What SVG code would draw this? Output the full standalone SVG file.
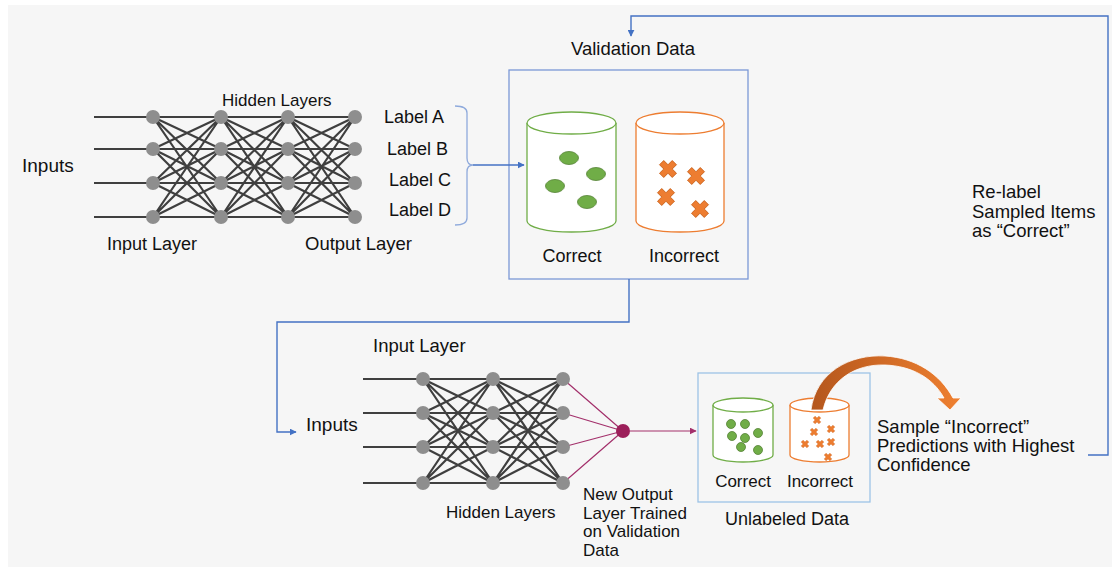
<svg xmlns="http://www.w3.org/2000/svg" width="1115" height="570" viewBox="0 0 1115 570">
<defs>
<style>
text{font-family:"Liberation Sans",Arial,sans-serif;font-size:18px;fill:#111}
.s17{font-size:17px}
.s185{font-size:18.5px}
.net{stroke:#3f3f3f;stroke-width:2.2;fill:none}
.node{fill:#8e8e8e}
.blue{stroke:#4472c4;stroke-width:1.4;fill:none}
.mag{stroke:#a3306b;stroke-width:1.2;fill:none}
.cylg{fill:#fff;stroke:#70ad47;stroke-width:1.3}
.cylo{fill:#fff;stroke:#ed7d31;stroke-width:1.3}
.dot{fill:#70ad47;stroke:#548235;stroke-width:0.8}
</style>
<marker id="ab" viewBox="0 0 10 10" refX="9" refY="5" markerWidth="7" markerHeight="7" markerUnits="userSpaceOnUse" orient="auto"><path d="M0 0L10 5L0 10Z" fill="#4472c4"/></marker>
<marker id="am" viewBox="0 0 10 10" refX="9" refY="5" markerWidth="7" markerHeight="7" markerUnits="userSpaceOnUse" orient="auto"><path d="M0 0L10 5L0 10Z" fill="#a3306b"/></marker>
<polygon id="x" transform="rotate(45)" points="-3,-9 3,-9 3,-3 9,-3 9,3 3,3 3,9 -3,9 -3,3 -9,3 -9,-3 -3,-3" fill="#ed7d31" stroke="#c55a11" stroke-width="0.8" stroke-linejoin="round"/>
<linearGradient id="og" x1="0" y1="0" x2="1" y2="0"><stop offset="0" stop-color="#b4561c"/><stop offset="1" stop-color="#ef8030"/></linearGradient>
</defs>
<rect x="8" y="5" width="1104" height="562" fill="#f6f6f6"/>

<g id="top-network">
<path class="net" d="M94 117H153M94 149H153M94 183H153M94 217H153"/>
<path class="net" d="M153 117L221 117M153 117L221 149M153 117L221 183M153 117L221 217M153 149L221 117M153 149L221 149M153 149L221 183M153 149L221 217M153 183L221 117M153 183L221 149M153 183L221 183M153 183L221 217M153 217L221 117M153 217L221 149M153 217L221 183M153 217L221 217"/>
<path class="net" d="M221 117L288 117M221 117L288 149M221 117L288 183M221 117L288 217M221 149L288 117M221 149L288 149M221 149L288 183M221 149L288 217M221 183L288 117M221 183L288 149M221 183L288 183M221 183L288 217M221 217L288 117M221 217L288 149M221 217L288 183M221 217L288 217"/>
<path class="net" d="M288 117L355 117M288 117L355 149M288 117L355 183M288 117L355 217M288 149L355 117M288 149L355 149M288 149L355 183M288 149L355 217M288 183L355 117M288 183L355 149M288 183L355 183M288 183L355 217M288 217L355 117M288 217L355 149M288 217L355 183M288 217L355 217"/>
<g class="node">
<circle cx="153" cy="117" r="7"/><circle cx="153" cy="149" r="7"/><circle cx="153" cy="183" r="7"/><circle cx="153" cy="217" r="7"/>
<circle cx="221" cy="117" r="7"/><circle cx="221" cy="149" r="7"/><circle cx="221" cy="183" r="7"/><circle cx="221" cy="217" r="7"/>
<circle cx="288" cy="117" r="7"/><circle cx="288" cy="149" r="7"/><circle cx="288" cy="183" r="7"/><circle cx="288" cy="217" r="7"/>
<circle cx="355" cy="117" r="7"/><circle cx="355" cy="149" r="7"/><circle cx="355" cy="183" r="7"/><circle cx="355" cy="217" r="7"/>
</g>
<text x="22" y="172" style="font-size:19px">Inputs</text>
<text x="222" y="106" class="s17">Hidden Layers</text>
<text x="107" y="250">Input Layer</text>
<text x="305" y="250" class="s185">Output Layer</text>
</g>

<g id="labels">
<text x="384" y="123">Label A</text>
<text x="387" y="155">Label B</text>
<text x="389" y="186">Label C</text>
<text x="389" y="216">Label D</text>
<path d="M455 106Q467 106 467 113L467 158Q467 165 473 165Q467 165 467 172L467 218Q467 225 455 225" fill="none" stroke="#8faadc" stroke-width="1.3"/>
</g>

<g id="validation-data">
<rect x="509" y="70" width="239" height="209" fill="none" stroke="#7b98d6" stroke-width="1.3"/>
<text x="633" y="55" text-anchor="middle" class="s185">Validation Data</text>
<path class="cylg" d="M527 123V221A44.5 11 0 0 0 616 221V123"/>
<ellipse class="cylg" cx="571.5" cy="123" rx="44.5" ry="11"/>
<ellipse class="dot" cx="569" cy="158" rx="9.5" ry="6.5"/>
<ellipse class="dot" cx="596" cy="174" rx="9.5" ry="6.5"/>
<ellipse class="dot" cx="555" cy="186" rx="9.5" ry="6.5"/>
<ellipse class="dot" cx="587" cy="202" rx="9.5" ry="6.5"/>
<path class="cylo" d="M636 123V221A44 11 0 0 0 724 221V123"/>
<ellipse class="cylo" cx="680" cy="123" rx="44" ry="11"/>
<g transform="translate(668 169)"><use href="#x"/></g>
<g transform="translate(696 176)"><use href="#x"/></g>
<g transform="translate(666 197)"><use href="#x"/></g>
<g transform="translate(700 209)"><use href="#x"/></g>
<text x="572" y="262" text-anchor="middle">Correct</text>
<text x="684" y="262" text-anchor="middle">Incorrect</text>
</g>

<g id="bottom-network">
<path class="net" d="M363 379H423M363 413H423M363 447H423M363 483H423"/>
<path class="net" d="M423 379L493 379M423 379L493 413M423 379L493 447M423 379L493 483M423 413L493 379M423 413L493 413M423 413L493 447M423 413L493 483M423 447L493 379M423 447L493 413M423 447L493 447M423 447L493 483M423 483L493 379M423 483L493 413M423 483L493 447M423 483L493 483"/>
<path class="net" d="M493 379L563 379M493 379L563 413M493 379L563 447M493 379L563 483M493 413L563 379M493 413L563 413M493 413L563 447M493 413L563 483M493 447L563 379M493 447L563 413M493 447L563 447M493 447L563 483M493 483L563 379M493 483L563 413M493 483L563 447M493 483L563 483"/>
<path class="mag" d="M563 379L623 431M563 413L623 431M563 447L623 431M563 483L623 431"/>
<g class="node">
<circle cx="423" cy="379" r="7"/><circle cx="423" cy="413" r="7"/><circle cx="423" cy="447" r="7"/><circle cx="423" cy="483" r="7"/>
<circle cx="493" cy="379" r="7"/><circle cx="493" cy="413" r="7"/><circle cx="493" cy="447" r="7"/><circle cx="493" cy="483" r="7"/>
<circle cx="563" cy="379" r="7"/><circle cx="563" cy="413" r="7"/><circle cx="563" cy="447" r="7"/><circle cx="563" cy="483" r="7"/>
</g>
<circle cx="623" cy="431" r="7" fill="#9c1f5a"/>
<text x="373" y="352" class="s185">Input Layer</text>
<text x="306" y="431" style="font-size:19px">Inputs</text>
<text x="446" y="518" class="s17">Hidden Layers</text>
<text x="583" y="500" class="s17">New Output</text>
<text x="583" y="518.5" class="s17">Layer Trained</text>
<text x="583" y="537" class="s17">on Validation</text>
<text x="583" y="555.5" class="s17">Data</text>
</g>

<g id="unlabeled-data">
<rect x="698" y="373" width="172" height="129" fill="none" stroke="#9dc3e6" stroke-width="1.3"/>
<path class="cylg" d="M713 405V455A30 7 0 0 0 773 455V405"/>
<ellipse class="cylg" cx="743" cy="405" rx="30" ry="7"/>
<g class="dot">
<circle cx="731" cy="424" r="4.5"/><circle cx="745" cy="424" r="4.5"/><circle cx="732" cy="436" r="4.5"/><circle cx="745" cy="438" r="4.5"/><circle cx="758" cy="433" r="4.5"/><circle cx="741" cy="447" r="4.5"/><circle cx="758" cy="450" r="4.5"/>
</g>
<path class="cylo" d="M790 405V455A29.5 7 0 0 0 849 455V405"/>
<ellipse class="cylo" cx="819.5" cy="405" rx="29.5" ry="7"/>
<g transform="translate(817 420) scale(0.45)"><use href="#x"/></g>
<g transform="translate(814 432) scale(0.45)"><use href="#x"/></g>
<g transform="translate(831 429) scale(0.45)"><use href="#x"/></g>
<g transform="translate(805 444) scale(0.45)"><use href="#x"/></g>
<g transform="translate(820 444) scale(0.45)"><use href="#x"/></g>
<g transform="translate(831 442) scale(0.45)"><use href="#x"/></g>
<g transform="translate(828 457) scale(0.45)"><use href="#x"/></g>
<text x="743" y="487" text-anchor="middle" class="s17">Correct</text>
<text x="820" y="487" text-anchor="middle" class="s17">Incorrect</text>
<text x="787" y="525" text-anchor="middle">Unlabeled Data</text>
</g>

<g id="sample-arrow">
<path d="M811 410C816 372 850 354 885 356C916 358 940 374 953 398L961 398L950 410L937 398L944 398C933 378 912 366 885 365C855 364 830 380 823 410Z" fill="url(#og)" stroke="#fff" stroke-width="0.8"/>
</g>

<g id="side-texts">
<text x="877" y="433" class="s185">Sample “Incorrect”</text>
<text x="877" y="452" class="s185">Predictions with Highest</text>
<text x="877" y="471" class="s185">Confidence</text>
<text x="972" y="198" class="s185">Re-label</text>
<text x="972" y="218" class="s185">Sampled Items</text>
<text x="972" y="237" class="s185">as “Correct”</text>
</g>

<g id="connectors">
<path class="blue" d="M473 165H524" marker-end="url(#ab)"/>
<path class="blue" d="M629 279V322H277V432H296" marker-end="url(#ab)"/>
<path class="mag" d="M630 431H696" marker-end="url(#am)"/>
<path class="blue" d="M1088 455H1108V16H631V36" marker-end="url(#ab)"/>
</g>
</svg>
